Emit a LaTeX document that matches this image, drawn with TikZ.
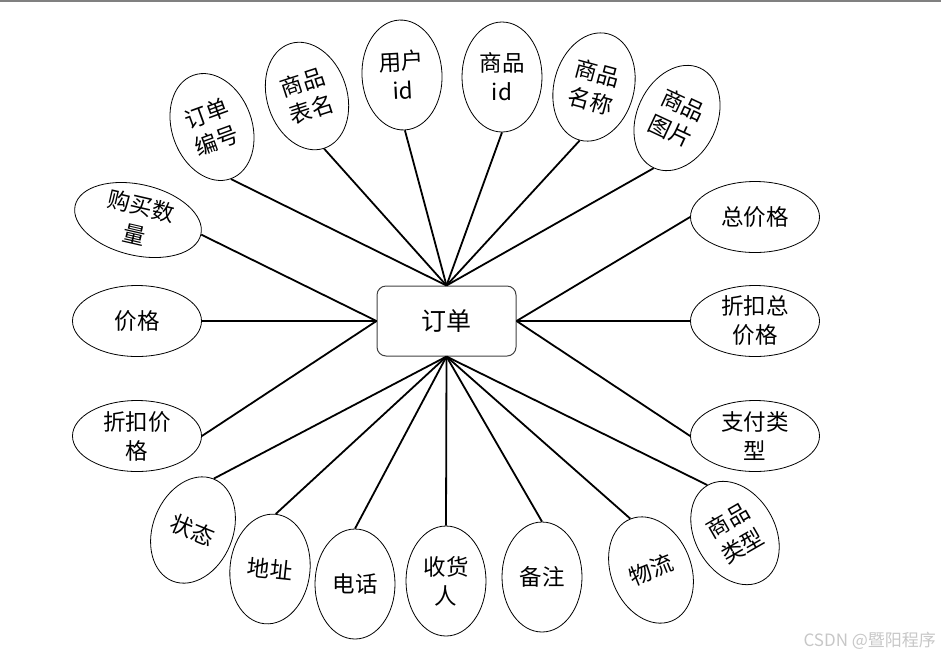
\documentclass[tikz,border=0pt]{standalone}
\usepackage{fontspec}
\setmainfont{Noto Sans CJK SC}
\usetikzlibrary{shapes.geometric}

\begin{document}
\begin{tikzpicture}[
    x=1pt, y=-1pt,
    entity/.style={draw=black!75, line width=1pt, rounded corners=9pt,
        minimum width=139pt, minimum height=70pt,
        font=\fontsize{25}{28}\selectfont},
    attrv/.style={draw, ellipse, line width=0.8pt, inner sep=0pt,
        minimum width=80pt, minimum height=110pt, align=center,
        font=\fontsize{22.5}{29}\selectfont},
    attrh/.style={attrv, minimum width=129pt, minimum height=71pt},
    link/.style={line width=1.8pt},
]
\useasboundingbox (0,0) rectangle (941,657);
\draw[gray, line width=1.5pt] (0,0.75) -- (941,0.75);

% Entity
\node[entity] (order) at (446.5,321) {订单};

% Upper attributes
\foreach \name/\x/\y/\ang/\txt in {
    orderno/212/127/20/{订单\\编号},
    tablename/307/96/18/{商品\\表名},
    userid/402/75/3/{用户\\id},
    goodsid/502/77/0/{商品\\id},
    goodsname/594/87/-15/{商品\\名称},
    goodspic/677/118/-25/{商品\\图片}} {
    \node[attrv, rotate=\ang] (\name) at (\x,\y) {\txt};
    \draw[link] (\name.south) -- (order.north);
}

% Left attributes
\foreach \name/\x/\y/\ang/\txt in {
    quantity/138/220/-13/{购买数\\量},
    price/137/321/0/{价格},
    discprice/137/436/0/{折扣价\\格}} {
    \node[attrh, rotate=\ang] (\name) at (\x,\y) {\txt};
    \draw[link] (\name.east) -- (order.west);
}

% Right attributes
\foreach \name/\y/\txt in {
    total/217/{总价格},
    disctotal/321/{折扣总\\价格},
    paytype/436/{支付类\\型}} {
    \node[attrh] (\name) at (755,\y) {\txt};
    \draw[link] (\name.west) -- (order.east);
}

% Lower attributes
\foreach \name/\x/\y/\ang/\txt in {
    status/193/530/-22/{状态},
    address/270/569/-6/{地址},
    phone/355/584/0/{电话},
    receiver/446/581/0/{收货\\人},
    remark/542/577/0/{备注},
    logistics/651/570/22/{物流},
    goodstype/735/533/30/{商品\\类型}} {
    \node[attrv, rotate=\ang] (\name) at (\x,\y) {\txt};
    \draw[link] (\name.north) -- (order.south);
}

% Watermark
\node[anchor=west, text=black!22, font=\fontsize{17}{19}\selectfont]
    (mark) at (800,641) {CSDN @暨阳程序};
\end{tikzpicture}
\end{document}
